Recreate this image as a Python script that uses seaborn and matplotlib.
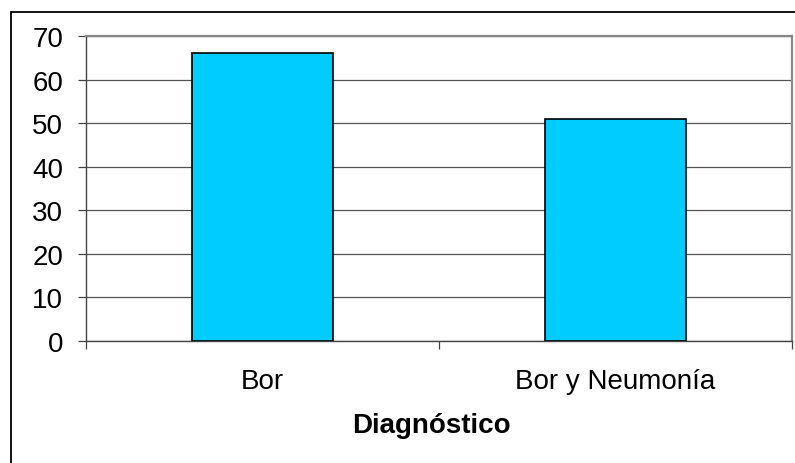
import matplotlib
matplotlib.use("Agg")
import matplotlib.pyplot as plt
from matplotlib.patches import Rectangle
import seaborn as sns
import pandas as pd

categories = ["Bor", "Bor y Neumonía"]
values = [66, 51]
y_ticks = [0, 10, 20, 30, 40, 50, 60, 70]

sns.set_style("white")
plt.rcParams["font.family"] = ["Liberation Sans", "DejaVu Sans"]
plt.rcParams["text.color"] = "black"
plt.rcParams["xtick.labelcolor"] = "black"
plt.rcParams["ytick.labelcolor"] = "black"

df = pd.DataFrame({"Diagnóstico": categories, "valor": values})

fig = plt.figure(figsize=(7.95, 4.64), dpi=100)
W, H = 795, 464
ax = fig.add_axes([86 / W, 1 - 342 / H, (792 - 86) / W, (342 - 37) / H])

sns.barplot(data=df, x="Diagnóstico", y="valor", ax=ax, color="#00CCFF",
            saturation=1, width=0.40, edgecolor="black", linewidth=1.2, zorder=3)

ax.set_ylim(0, 70)
ax.set_xlim(-0.5, 1.5)
ax.set_yticks(y_ticks)
ax.set_xticks([-0.5, 0.5, 1.5], minor=False)
ax.set_xticklabels(["", "", ""])
ax.set_xticks([0, 1], minor=True)
ax.set_xticklabels(categories, minor=True)

ax.yaxis.grid(True, color="#555555", linewidth=0.9, zorder=0)
ax.set_axisbelow(True)

ax.tick_params(axis="y", which="major", direction="out", length=6, width=0.9,
               color="#444444", labelsize=20, pad=10.5, left=True,
               labelcolor="black")
ax.tick_params(axis="x", which="major", direction="out", length=6, width=0.9,
               color="#444444", bottom=True)
ax.tick_params(axis="x", which="minor", length=0, labelsize=20, pad=19.5,
               labelcolor="black")

for side in ["left", "bottom"]:
    ax.spines[side].set_color("#444444")
    ax.spines[side].set_linewidth(1.0)
for side in ["top", "right"]:
    ax.spines[side].set_color("#888888")
    ax.spines[side].set_linewidth(1.6)

ax.set_ylabel("")
ax.set_xlabel("Diagnóstico", fontsize=20, fontweight="bold", color="black")
ax.xaxis.set_label_coords((431.5 - 86) / (792 - 86), -(426 - 342) / (342 - 37),
                          transform=None)
ax.xaxis.label.set_verticalalignment("center")

# outer chart frame
fig.patches.append(Rectangle((11 / W, -0.1), 1.2, 1 - 13 / H + 0.1,
                             transform=fig.transFigure, fill=False,
                             edgecolor="black", linewidth=1.3))

fig.savefig("out.png", dpi=100)
